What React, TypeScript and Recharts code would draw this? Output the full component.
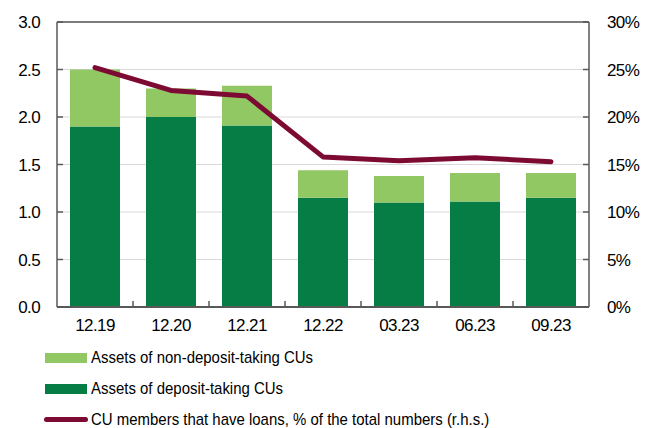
import { Bar, CartesianGrid, ComposedChart, Legend, Line, ReferenceLine, XAxis, YAxis } from "recharts";

const periods = ["12.19", "12.20", "12.21", "12.22", "03.23", "06.23", "09.23"];
const depositTaking = [1.9, 2.0, 1.91, 1.15, 1.1, 1.11, 1.15];
const nonDepositTaking = [0.6, 0.3, 0.42, 0.29, 0.28, 0.3, 0.26];
const membersWithLoans = [25.2, 22.8, 22.2, 15.8, 15.4, 15.7, 15.3];

const leftTicks = [0, 0.5, 1.0, 1.5, 2.0, 2.5, 3.0];
const rightTicks = [0, 5, 10, 15, 20, 25, 30];

const data = periods.map((p, i) => ({
  period: p,
  dep: depositTaking[i],
  nonDep: nonDepositTaking[i],
  loans: membersWithLoans[i],
}));

const FONT = "'Liberation Sans', Arial, sans-serif";
const AXIS = "#595959";
const BAND = 76;

const CategoryTick = (props: any) => {
  const { x, y, payload, index } = props;
  return (
    <g>
      <text x={x} y={y} dy="0.71em" textAnchor="middle" fill="#000" fontSize={17} fontFamily={FONT} letterSpacing={-0.6}>
        {payload.value}
      </text>
      {index < periods.length - 1 && (
        <line x1={x + BAND / 2} x2={x + BAND / 2} y1={307} y2={301} stroke={AXIS} strokeWidth={1.5} />
      )}
    </g>
  );
};

const LegendBox = ({ payload }: any) => {
  const order = ["nonDep", "dep", "loans"];
  const items = order.map((k) => payload.find((p: any) => p.dataKey === k)).filter(Boolean);
  return (
    <div style={{ fontFamily: FONT, fontSize: 17, color: "#000" }}>
      {items.map((it: any) => (
        <div key={it.dataKey} style={{ display: "flex", alignItems: "center", height: 31 }}>
          {it.dataKey === "loans" ? (
            <span style={{ width: 44, height: 5, borderRadius: 3, background: it.color, marginLeft: 44, marginRight: 3, flexShrink: 0 }} />
          ) : (
            <span style={{ width: 42, height: 10, background: it.color, marginLeft: 45, marginRight: 4, flexShrink: 0 }} />
          )}
          <span style={{ display: "inline-block", whiteSpace: "nowrap", transform: "scaleX(0.88)", transformOrigin: "left center" }}>
            {it.value}
          </span>
        </div>
      ))}
    </div>
  );
};

export default function App() {
  return (
    <div style={{ position: "absolute", left: 0, top: 0, width: 649, height: 428, background: "#fff" }}>
      <ComposedChart width={649} height={428} data={data} margin={{ top: 22, right: 0, left: 0, bottom: 91 }}>
        <CartesianGrid vertical={false} stroke="#D9D9D9" yAxisId="left" />
        <XAxis
          dataKey="period"
          axisLine={{ stroke: AXIS, strokeWidth: 2 }}
          tickLine={false}
          tickSize={0}
          tickMargin={12}
          interval={0}
          tick={<CategoryTick />}
          height={30}
        />
        <YAxis
          yAxisId="left"
          domain={[0, 3]}
          ticks={leftTicks}
          tickFormatter={(v: number) => v.toFixed(1)}
          width={57}
          axisLine={{ stroke: AXIS, strokeWidth: 1.5 }}
          tickLine={{ stroke: AXIS, strokeWidth: 1.5 }}
          tickSize={-6}
          tickMargin={23}
          tick={{ fill: "#000", fontSize: 17, fontFamily: FONT, letterSpacing: -0.6 }}
          interval={0}
        />
        <YAxis
          yAxisId="right"
          orientation="right"
          domain={[0, 30]}
          ticks={rightTicks}
          tickFormatter={(v: number) => `${v}%`}
          width={60}
          axisLine={{ stroke: AXIS, strokeWidth: 1.5 }}
          tickLine={{ stroke: AXIS, strokeWidth: 1.5 }}
          tickSize={-6}
          tickMargin={24}
          tick={{ fill: "#000", fontSize: 17, fontFamily: FONT, letterSpacing: -0.6 }}
          interval={0}
        />
        <ReferenceLine yAxisId="left" y={3} stroke={AXIS} strokeWidth={1.5} />
        <Bar
          yAxisId="left"
          dataKey="dep"
          name="Assets of deposit-taking CUs"
          stackId="a"
          fill="#077D46"
          barSize={50}
          isAnimationActive={false}
        />
        <Bar
          yAxisId="left"
          dataKey="nonDep"
          name="Assets of non-deposit-taking CUs"
          stackId="a"
          fill="#92C864"
          barSize={50}
          isAnimationActive={false}
        />
        <Line
          yAxisId="right"
          dataKey="loans"
          name="CU members that have loans, % of the total numbers (r.h.s.)"
          stroke="#7D0A33"
          strokeWidth={5}
          strokeLinejoin="round"
          strokeLinecap="round"
          dot={false}
          activeDot={false}
          type="linear"
          isAnimationActive={false}
        />
        <Legend
          layout="horizontal"
          verticalAlign="middle"
          align="center"
          content={<LegendBox />}
          wrapperStyle={{ position: "absolute", left: 0, top: 342, width: 649 }}
        />
      </ComposedChart>
    </div>
  );
}
